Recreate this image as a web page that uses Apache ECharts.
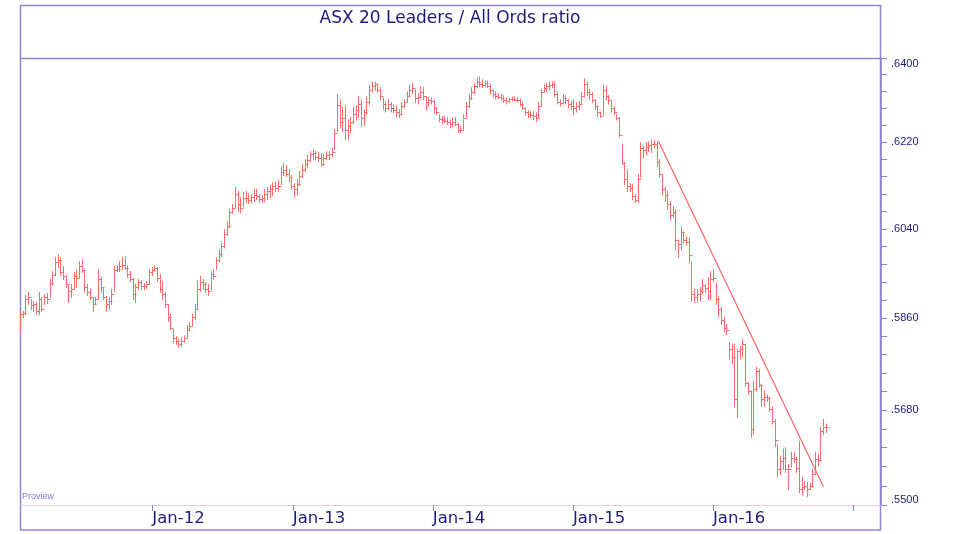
<!DOCTYPE html>
<html><head><meta charset="utf-8">
<script src="https://cdn.jsdelivr.net/npm/echarts@6/dist/echarts.min.js"></script>
<style>html,body{margin:0;padding:0;background:#fff}#c{width:956px;height:534px}</style>
</head><body><div id="c"></div>
<script>
const chartTitle = 'ASX 20 Leaders / All Ords ratio';
const firstWeek = '2011-01-21';
const high = [
.5871,.5873,.5905,.5911,.5897,.5893,.5891,.5911,.5901,.5907,
.5909,.5937,.5953,.5981,.5987,.5981,.5963,.5945,.5927,.5927,
.5951,.5957,.5973,.5977,.5957,.5927,.5917,.5901,.5901,.5957,
.5941,.5921,.5903,.5901,.5917,.5963,.5965,.5973,.5981,.5983,
.5965,.5953,.5939,.5927,.5937,.5935,.5929,.5933,.5957,.5961,
.5965,.5961,.5947,.5933,.5911,.5887,.5867,.5837,.5823,.5817,
.5821,.5825,.5845,.5851,.5867,.5887,.5933,.5943,.5937,.5931,
.5927,.5953,.5957,.5981,.5997,.6011,.6038,.6054,.6079,.6090,
.6125,.6117,.6104,.6115,.6117,.6112,.6110,.6121,.6121,.6110,
.6108,.6121,.6125,.6129,.6135,.6137,.6140,.6167,.6175,.6171,
.6162,.6150,.6133,.6142,.6158,.6173,.6183,.6192,.6200,.6204,
.6200,.6198,.6196,.6194,.6200,.6200,.6208,.6246,.6321,.6310,
.6293,.6297,.6267,.6272,.6293,.6297,.6316,.6310,.6289,.6316,
.6340,.6348,.6348,.6344,.6336,.6314,.6306,.6310,.6304,.6299,
.6297,.6289,.6304,.6310,.6327,.6340,.6344,.6331,.6323,.6338,
.6336,.6316,.6314,.6314,.6310,.6293,.6278,.6274,.6274,.6272,
.6267,.6272,.6272,.6259,.6253,.6278,.6304,.6321,.6336,.6344,
.6357,.6359,.6353,.6350,.6350,.6344,.6331,.6327,.6323,.6321,
.6319,.6314,.6314,.6316,.6316,.6314,.6312,.6304,.6293,.6287,
.6284,.6284,.6282,.6304,.6331,.6342,.6346,.6348,.6348,.6348,
.6327,.6310,.6321,.6319,.6310,.6306,.6310,.6304,.6306,.6325,
.6355,.6348,.6331,.6325,.6310,.6297,.6284,.6342,.6338,.6319,
.6306,.6295,.6278,.6272,.6214,.6177,.6162,.6133,.6131,.6110,
.6152,.6219,.6212,.6219,.6221,.6225,.6223,.6221,.6183,.6152,
.6125,.6117,.6096,.6085,.6079,.6017,.6044,.6033,.6023,.6021,
.5971,.5917,.5917,.5921,.5937,.5925,.5941,.5953,.5957,.5929,
.5903,.5881,.5861,.5847,.5812,.5808,.5808,.5798,.5804,.5817,
.5808,.5734,.5717,.5736,.5763,.5759,.5730,.5717,.5709,.5705,
.5686,.5662,.5614,.5591,.5605,.5608,.5576,.5599,.5599,.5589,
.5620,.5552,.5544,.5542,.5540,.5567,.5599,.5595,.5647,.5662,
.5653];
const low = [
.5833,.5861,.5867,.5887,.5877,.5873,.5867,.5867,.5873,.5887,
.5889,.5901,.5925,.5945,.5961,.5945,.5937,.5921,.5891,.5901,
.5917,.5921,.5941,.5951,.5911,.5905,.5897,.5873,.5889,.5897,
.5911,.5897,.5873,.5877,.5887,.5913,.5953,.5953,.5957,.5957,
.5941,.5933,.5897,.5891,.5917,.5917,.5917,.5919,.5927,.5945,
.5953,.5933,.5911,.5897,.5881,.5853,.5837,.5812,.5808,.5802,
.5804,.5812,.5821,.5837,.5845,.5857,.5877,.5913,.5917,.5911,
.5905,.5917,.5937,.5957,.5973,.5983,.6001,.6027,.6042,.6071,
.6083,.6075,.6073,.6085,.6094,.6092,.6094,.6096,.6100,.6094,
.6094,.6096,.6100,.6104,.6108,.6117,.6117,.6131,.6150,.6148,
.6137,.6121,.6106,.6110,.6129,.6146,.6158,.6167,.6179,.6183,
.6183,.6179,.6169,.6171,.6183,.6183,.6189,.6204,.6242,.6250,
.6242,.6225,.6225,.6240,.6259,.6267,.6272,.6253,.6255,.6278,
.6299,.6327,.6331,.6325,.6310,.6289,.6284,.6289,.6284,.6282,
.6274,.6272,.6278,.6293,.6306,.6319,.6323,.6304,.6301,.6312,
.6310,.6289,.6297,.6301,.6282,.6278,.6263,.6259,.6261,.6257,
.6250,.6253,.6255,.6240,.6240,.6246,.6272,.6293,.6310,.6323,
.6336,.6338,.6336,.6338,.6336,.6323,.6316,.6312,.6312,.6310,
.6304,.6301,.6304,.6308,.6308,.6306,.6297,.6289,.6278,.6272,
.6272,.6267,.6263,.6272,.6297,.6327,.6327,.6331,.6336,.6316,
.6301,.6297,.6301,.6301,.6293,.6289,.6278,.6284,.6289,.6301,
.6316,.6319,.6310,.6304,.6289,.6274,.6272,.6278,.6310,.6301,
.6284,.6278,.6267,.6231,.6173,.6131,.6117,.6117,.6100,.6094,
.6094,.6146,.6187,.6194,.6200,.6198,.6208,.6169,.6146,.6110,
.6096,.6079,.6058,.6063,.5997,.5981,.5997,.6011,.6007,.5971,
.5893,.5891,.5891,.5893,.5909,.5911,.5897,.5897,.5933,.5887,
.5863,.5847,.5833,.5827,.5779,.5769,.5686,.5666,.5779,.5784,
.5726,.5711,.5627,.5633,.5717,.5724,.5687,.5687,.5697,.5678,
.5653,.5610,.5553,.5557,.5567,.5561,.5529,.5572,.5580,.5561,
.5523,.5519,.5529,.5516,.5529,.5533,.5557,.5574,.5582,.5633,
.5637];
const close = [
.5867,.5869,.5897,.5901,.5885,.5887,.5873,.5897,.5877,.5901,
.5897,.5929,.5947,.5973,.5977,.5953,.5945,.5927,.5913,.5917,
.5945,.5941,.5965,.5957,.5921,.5911,.5901,.5887,.5897,.5937,
.5921,.5901,.5887,.5893,.5907,.5957,.5959,.5965,.5967,.5961,
.5949,.5937,.5907,.5921,.5931,.5923,.5923,.5927,.5953,.5957,
.5961,.5941,.5917,.5907,.5887,.5861,.5841,.5821,.5814,.5808,
.5815,.5821,.5837,.5845,.5861,.5877,.5917,.5931,.5927,.5917,
.5913,.5949,.5945,.5977,.5989,.6005,.6029,.6046,.6075,.6083,
.6112,.6090,.6083,.6104,.6104,.6100,.6106,.6110,.6108,.6102,
.6104,.6112,.6117,.6121,.6129,.6125,.6129,.6158,.6162,.6154,
.6146,.6129,.6121,.6133,.6150,.6162,.6175,.6183,.6194,.6198,
.6189,.6187,.6175,.6187,.6192,.6196,.6200,.6240,.6299,.6263,
.6272,.6246,.6255,.6263,.6280,.6289,.6301,.6272,.6284,.6306,
.6331,.6340,.6344,.6331,.6319,.6301,.6293,.6301,.6293,.6289,
.6284,.6280,.6297,.6306,.6319,.6331,.6336,.6314,.6316,.6327,
.6319,.6306,.6310,.6308,.6293,.6284,.6270,.6267,.6265,.6263,
.6259,.6263,.6259,.6246,.6246,.6272,.6297,.6314,.6327,.6340,
.6348,.6344,.6342,.6346,.6340,.6331,.6323,.6319,.6316,.6314,
.6310,.6308,.6312,.6312,.6310,.6310,.6301,.6293,.6284,.6280,
.6278,.6276,.6272,.6297,.6327,.6336,.6340,.6342,.6344,.6323,
.6306,.6304,.6314,.6310,.6301,.6297,.6293,.6297,.6301,.6319,
.6344,.6327,.6323,.6310,.6297,.6284,.6276,.6331,.6319,.6310,
.6293,.6284,.6272,.6235,.6177,.6142,.6129,.6125,.6108,.6100,
.6142,.6208,.6204,.6210,.6214,.6216,.6216,.6179,.6154,.6121,
.6110,.6090,.6069,.6075,.6017,.6009,.6033,.6017,.6013,.5987,
.5907,.5901,.5907,.5913,.5925,.5919,.5913,.5937,.5941,.5897,
.5877,.5857,.5841,.5837,.5798,.5783,.5701,.5794,.5798,.5808,
.5732,.5717,.5643,.5720,.5755,.5728,.5701,.5705,.5703,.5682,
.5658,.5623,.5567,.5582,.5589,.5567,.5567,.5589,.5586,.5570,
.5529,.5533,.5536,.5529,.5535,.5559,.5586,.5584,.5639,.5647,
.5647];
const yLabelValues = [.5500, .5680, .5860, .6040, .6220, .6400];
const yTickValues = [.5500,.5536,.5572,.5608,.5644,.5680,.5716,.5752,.5788,.5824,.5860,.5896,.5932,
  .5968,.6004,.6040,.6076,.6112,.6148,.6184,.6220,.6256,.6292,.6328,.6364,.6400];
const xTickDates = ['2012-01-01','2013-01-01','2014-01-01','2015-01-01','2016-01-01','2017-01-01'];
const xLabelDates = ['2012-01-01','2013-01-01','2014-01-01','2015-01-01','2016-01-01'];
const xRange = ['2011-01-21','2017-03-14'];
const trendDates = ['2015-08-12','2016-10-15'];
const trendValues = [.6222, .5534];

function day(s){const p=s.split('-').map(Number);return new Date(p[0],p[1]-1,p[2]).getTime();}
const f0 = firstWeek.split('-').map(Number);
const bars = high.map((h,i)=>[new Date(f0[0],f0[1]-1,f0[2]+7*i).getTime(), Math.log(low[i]), Math.log(h), Math.log(close[i])]);

const lav = '#9085d2', navy = '#1c1a80', red = '#ff6a6a';
const chart = echarts.init(document.getElementById('c'));
chart.setOption({
  animation:false,
  backgroundColor:'#ffffff',
  grid:{left:20, right:75, top:58, bottom:29, containLabel:false},
  xAxis:{type:'value', min:day(xRange[0]), max:day(xRange[1]),
    axisLine:{show:true, lineStyle:{color:'#dcc4d6', type:'dotted', width:1}},
    axisTick:{show:true, length:6, customValues:xTickDates.map(day), lineStyle:{color:lav, width:1}},
    axisLabel:{show:true, customValues:xLabelDates.map(day), align:'left', margin:5,
      fontFamily:'DejaVu Sans', fontSize:16.5, color:navy,
      formatter:v=>'Jan-'+String(new Date(v).getFullYear()).slice(2)},
    splitLine:{show:false}},
  yAxis:{type:'value', position:'right', min:Math.log(.55), max:Math.log(.64),
    axisLine:{show:true, lineStyle:{color:lav, width:1.5}},
    axisTick:{show:true, length:6, customValues:yTickValues.map(Math.log), lineStyle:{color:lav, width:1}},
    axisLabel:{show:true, customValues:yLabelValues.map(Math.log), margin:10,
      fontFamily:'Liberation Sans, Arial', fontSize:11, color:navy,
      verticalAlignMinLabel:'bottom', verticalAlignMaxLabel:'top',
      formatter:v=>Math.exp(v).toFixed(4).replace(/^0/,'')},
    splitLine:{show:false}},
  series:[
    {type:'custom', data:bars, encode:{x:0, y:[1,2,3]}, clip:true,
      renderItem:function(params, api){
        const t = api.value(0);
        const pl = api.coord([t, api.value(1)]);
        const ph = api.coord([t, api.value(2)]);
        const pc = api.coord([t, api.value(3)]);
        const x = Math.round(pl[0]) + 0.5;
        const yc = Math.round(pc[1]) + 0.5;
        return {type:'group', children:[
          {type:'line', shape:{x1:x, y1:ph[1]-0.5, x2:x, y2:pl[1]+0.5}, style:{stroke:red, lineWidth:1}},
          {type:'line', shape:{x1:x, y1:yc, x2:x+3, y2:yc}, style:{stroke:red, lineWidth:1}}
        ]};
      }},
    {type:'line', data:trendDates.map((d,i)=>[day(d), Math.log(trendValues[i])]), symbol:'none',
      lineStyle:{color:'#ff6464', width:1.2}, z:3}
  ],
  graphic:[
    {type:'rect', shape:{x:20.5, y:5.5, width:860, height:524.5}, style:{fill:'none', stroke:lav, lineWidth:1.5}, silent:true},
    {type:'line', shape:{x1:20, y1:58.5, x2:881, y2:58.5}, style:{stroke:lav, lineWidth:1.5}, silent:true},
    {type:'text', x:450, y:19, style:{text:chartTitle, align:'center', verticalAlign:'middle',
      fontFamily:'DejaVu Sans', fontSize:17, fill:navy}, silent:true},
    {type:'text', x:22, y:497, style:{text:'Proview', align:'left', verticalAlign:'middle',
      fontFamily:'Liberation Sans, Arial', fontSize:9, fill:'#8a7cd0'}, silent:true}
  ]
});
</script></body></html>
